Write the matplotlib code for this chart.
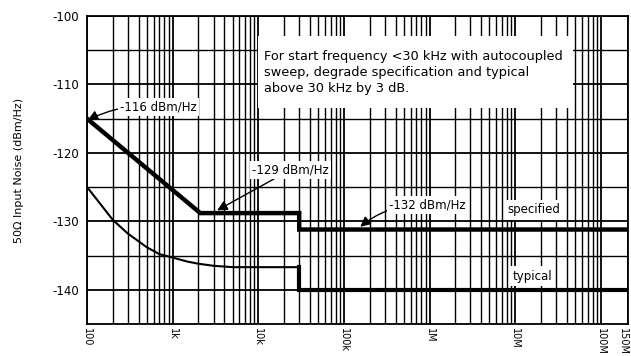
import numpy as np
import matplotlib
matplotlib.use("Agg")
import matplotlib.pyplot as plt
from matplotlib.patches import Rectangle

plt.rcParams["axes.unicode_minus"] = False

# specified noise floor (Hz, dBm/Hz)
spec_freq = [100, 2.1e3, 30e3, 30e3, 150e6]
spec_level = [-115.0, -128.8, -128.8, -131.2, -131.2]

# typical noise floor, curved part then flat steps
typ_freq = [100, 150, 200, 300, 500, 700, 1e3, 1.5e3, 2e3, 3e3, 5e3, 30e3]
typ_level = [-125.0, -127.8, -129.8, -131.8, -133.8, -134.8, -135.3, -135.9, -136.2, -136.5, -136.7, -136.7]
typ_hi_freq = [30e3, 30e3, 150e6]
typ_hi_level = [-136.7, -140.0, -140.0]

xticks = [100, 1e3, 1e4, 1e5, 1e6, 1e7, 1e8, 1.5e8]
xticklabels = ["100", "1k", "10k", "100k", "1M", "10M", "100M", "150M"]
yticks = [-100, -110, -120, -130, -140]

# log axis up to 100M, last stretch to 150M is drawn wider as on the original sheet
K = 0.315


def fwd(x):
    x = np.asarray(x, dtype=float)
    lg = np.log10(np.maximum(x, 1e-300))
    return np.where(x <= 1e8, lg, 8 + (x - 1e8) / 5e7 * K)


def inv(y):
    y = np.asarray(y, dtype=float)
    return np.where(y <= 8, 10.0 ** np.minimum(y, 8), 1e8 + (y - 8) / K * 5e7)


fig = plt.figure(figsize=(6.31, 3.56), dpi=100)
ax = fig.add_axes([0.138, 0.090, 0.857, 0.865])
ax.set_xscale("function", functions=(fwd, inv))
ax.set_xlim(100, 1.5e8)
ax.set_ylim(-145, -100)

minor = [m * 10 ** d for d in range(2, 8) for m in range(2, 10)]
ax.set_xticks(xticks)
ax.set_xticklabels(xticklabels, rotation=270, fontsize=7)
ax.get_xticklabels()[-1].set_horizontalalignment("right")
ax.set_xticks(minor, minor=True)
ax.set_yticks(yticks)
ax.set_yticks(np.arange(-145, -99, 5), minor=True)
ax.tick_params(which="both", length=0)
ax.tick_params(axis="y", labelsize=8.5, pad=6)
ax.tick_params(axis="x", pad=3)

ax.grid(True, which="major", color="black", lw=1.3)
ax.grid(True, which="minor", color="black", lw=1.0)
ax.set_axisbelow(True)
for s in ax.spines.values():
    s.set_linewidth(1.3)

# blank area behind the note
ax.add_patch(Rectangle((0.316, 0.70), 0.582, 0.235, transform=ax.transAxes,
                       facecolor="white", edgecolor="none", zorder=1))
ax.text(11.5e3, -105.0, "For start frequency <30 kHz with autocoupled\n"
        "sweep, degrade specification and typical\nabove 30 kHz by 3 dB.",
        fontsize=9.3, va="top", ha="left", linespacing=1.3, zorder=3)

ax.plot(spec_freq, spec_level, color="black", lw=3.2, solid_joinstyle="miter", zorder=2)
ax.plot(typ_freq, typ_level, color="black", lw=1.5, zorder=2)
ax.plot(typ_hi_freq, typ_hi_level, color="black", lw=3.0, solid_joinstyle="miter", zorder=2)

box = dict(facecolor="white", edgecolor="none", pad=1.5)
arrow = dict(arrowstyle="-|>", color="black", lw=1.0, mutation_scale=15,
             shrinkA=0, shrinkB=0)

ax.annotate("-116 dBm/Hz", xy=(102, -115.2), xytext=(240, -113.3),
            fontsize=8.5, va="center", ha="left", bbox=box,
            arrowprops=dict(arrow, connectionstyle="arc3,rad=0.15"), zorder=3)
ax.annotate("-129 dBm/Hz", xy=(3.3e3, -128.4), xytext=(8.4e3, -122.5),
            fontsize=8.5, va="center", ha="left", bbox=box,
            arrowprops=dict(arrow, connectionstyle="arc3,rad=0.0"), zorder=3)
ax.annotate("-132 dBm/Hz", xy=(1.55e5, -130.8), xytext=(3.4e5, -127.6),
            fontsize=8.5, va="center", ha="left", bbox=box,
            arrowprops=dict(arrow, connectionstyle="arc3,rad=0.2"), zorder=3)
ax.text(16.6e6, -128.3, "specified", fontsize=8.5, ha="center", va="center",
        bbox=dict(facecolor="white", edgecolor="none", pad=2.5), zorder=3)
ax.text(15.8e6, -138.0, "typical", fontsize=8.5, ha="center", va="center",
        bbox=dict(facecolor="white", edgecolor="none", pad=2.5), zorder=3)

fig.text(0.03, 0.52, "50\u03a9 Input Noise (dBm/Hz)", rotation=90,
         fontsize=8, ha="center", va="center")

fig.savefig("out.png", dpi=100)
